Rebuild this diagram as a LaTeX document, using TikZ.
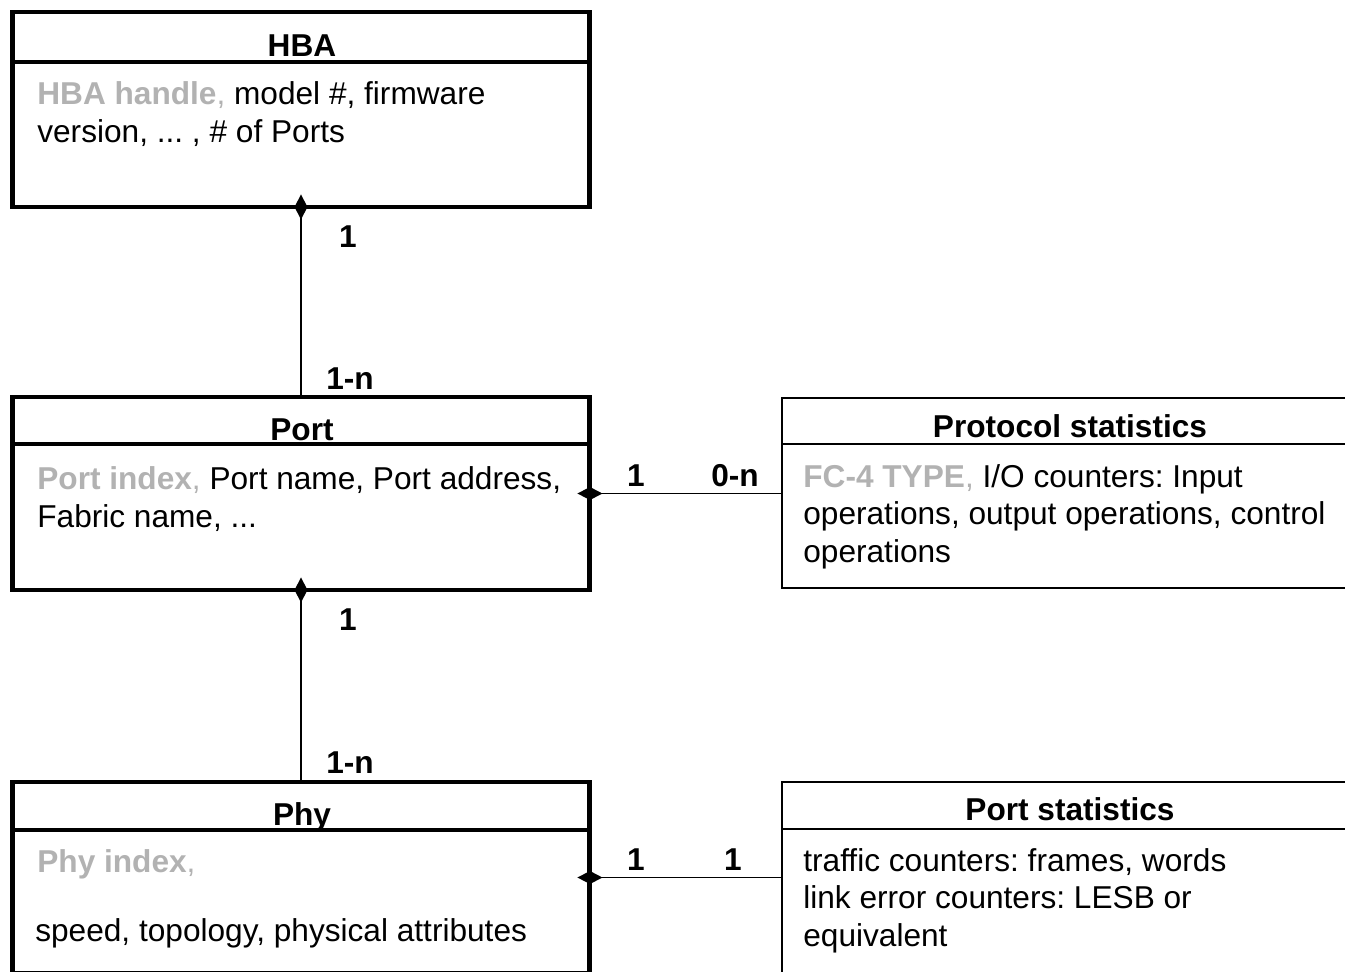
\documentclass[tikz,border=0pt]{standalone}
\usepackage{fontspec}
\setmainfont{Liberation Sans}
\usetikzlibrary{arrows.meta, calc}
\definecolor{keygray}{gray}{0.7}
\newcommand{\keyattr}[1]{\textcolor{keygray}{\textbf{#1},}}

\begin{document}
\frenchspacing
\begin{tikzpicture}[x=0.02cm, y=-0.02cm,
	every node/.style={font=\fontsize{18}{21.3}\selectfont, inner sep=0pt},
	classbox/.style={draw, line width=2.8pt, outer sep=0pt, minimum width=11.56cm},
	statbox/.style={draw, line width=1.1pt, outer sep=0pt, minimum width=11.56cm},
	title/.style={anchor=base, font=\fontsize{18}{21.3}\selectfont\bfseries},
	body/.style={anchor=base west, align=left},
	mult/.style={font=\fontsize{18}{21.3}\selectfont\bfseries},
	comp/.style={line width=1.1pt, {Diamond[length=0.5cm, width=0.26cm]}-, shorten <=-0.25cm}]
	\useasboundingbox (0,0) rectangle (1345,971);
	\clip (0,0) rectangle (1345,971);
	% classes
	\node[classbox, minimum height=3.9cm] (hba) at (301,109.5) {};
	\node[classbox, minimum height=3.86cm] (port) at (301,493.5) {};
	\node[classbox, minimum height=3.82cm] (phy) at (301,877.5) {};
	\node[statbox, minimum height=3.8cm] (pstat) at (1071,493) {};
	\node[statbox, minimum height=4.36cm] (lstat) at (1071,891) {};
	% header lines
	\draw[line width=2.8pt] ($(hba.north west)+(0,50)$) -- ($(hba.north east)+(0,50)$);
	\draw[line width=2.8pt] ($(port.north west)+(0,47)$) -- ($(port.north east)+(0,47)$);
	\draw[line width=2.8pt] ($(phy.north west)+(0,48)$) -- ($(phy.north east)+(0,48)$);
	\draw[line width=1.1pt] ($(pstat.north west)+(0,46)$) -- ($(pstat.north east)+(0,46)$);
	\draw[line width=1.1pt] ($(lstat.north west)+(0,47)$) -- ($(lstat.north east)+(0,47)$);
	% titles
	\node[title] (hbat) at (302,56) {HBA};
	\node[title] (portt) at (302,440) {Port};
	\node[title] (phyt) at (302,825) {Phy};
	\node[title] (pstatt) at (1070,437) {Protocol statistics};
	\node[title] (lstatt) at (1070,820) {Port statistics};
	% attributes (base = last line)
	\node[body] (hbab) at (37,142) {\keyattr{HBA handle} model \#, firmware\\version, ... , \# of Ports};
	\node[body] (portb) at (37,527) {\keyattr{Port index} Port name, Port address,\\Fabric name, ...};
	\node[body] (phyb) at (37,872) {\keyattr{Phy index}};
	\node[body] (phyc) at (35,941) {speed, topology, physical attributes};
	\node[body] (pstatb) at (803,562) {\keyattr{FC-4 TYPE} I/O counters: Input\\operations, output operations, control\\operations};
	\node[body] (lstatb) at (803,946) {traffic counters: frames, words\\link error counters: LESB or\\equivalent};
	% associations
	\draw[comp] (hba.south) -- (port.north);
	\draw[comp] (port.south) -- (phy.north);
	\draw[comp] (port.east) -- (port.east -| pstat.west);
	\draw[comp] (phy.east) -- (phy.east -| lstat.west);
	% multiplicities
	\node[mult] (m1) at (348,237) {1};
	\node[mult] (m2) at (350,379) {1-n};
	\node[mult] (m3) at (636,476) {1};
	\node[mult] (m4) at (735,476) {0-n};
	\node[mult] (m5) at (348,620) {1};
	\node[mult] (m6) at (350,763) {1-n};
	\node[mult] (m7) at (636,860) {1};
	\node[mult] (m8) at (733,860) {1};
\end{tikzpicture}
\end{document}
